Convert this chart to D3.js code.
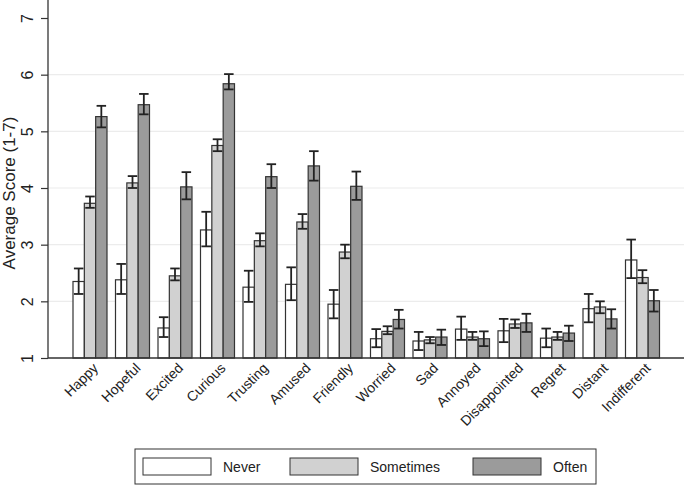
<!DOCTYPE html>
<html>
<head>
<meta charset="utf-8">
<script src="https://cdn.jsdelivr.net/npm/d3@7"></script>
<style>
  html, body { margin: 0; padding: 0; background: #fff; }
  svg { display: block; font-family: "Liberation Sans", Arial, sans-serif; }
</style>
</head>
<body>
<svg id="chart" width="685" height="485"></svg>
<script>
const categories = ["Happy","Hopeful","Excited","Curious","Trusting","Amused","Friendly","Worried","Sad","Annoyed","Disappointed","Regret","Distant","Indifferent"];
const seriesNames = ["Never","Sometimes","Often"];
const neverMean = [2.35, 2.38, 1.53, 3.26, 2.25, 2.30, 1.95, 1.34, 1.30, 1.51, 1.48, 1.35, 1.87, 2.73];
const neverLow  = [2.13, 2.13, 1.37, 2.97, 1.99, 2.02, 1.70, 1.19, 1.14, 1.32, 1.28, 1.19, 1.63, 2.41];
const neverHigh = [2.58, 2.66, 1.72, 3.58, 2.54, 2.60, 2.20, 1.51, 1.46, 1.73, 1.69, 1.52, 2.13, 3.09];
const someMean  = [3.73, 4.09, 2.45, 4.75, 3.07, 3.40, 2.87, 1.47, 1.32, 1.37, 1.60, 1.37, 1.90, 2.42];
const someLow   = [3.65, 4.00, 2.37, 4.65, 2.97, 3.28, 2.76, 1.42, 1.26, 1.32, 1.53, 1.32, 1.79, 2.32];
const someHigh  = [3.85, 4.21, 2.58, 4.86, 3.20, 3.54, 3.00, 1.56, 1.37, 1.46, 1.68, 1.46, 2.00, 2.55];
const oftenMean = [5.26, 5.47, 4.02, 5.84, 4.20, 4.39, 4.03, 1.68, 1.37, 1.34, 1.62, 1.44, 1.69, 2.01];
const oftenLow  = [5.07, 5.30, 3.80, 5.74, 4.00, 4.13, 3.79, 1.52, 1.23, 1.21, 1.46, 1.30, 1.52, 1.82];
const oftenHigh = [5.45, 5.66, 4.28, 6.01, 4.42, 4.65, 4.29, 1.85, 1.50, 1.47, 1.78, 1.57, 1.86, 2.20];
const yTicks = [1, 2, 3, 4, 5, 6, 7];
const gridValues = [2, 3, 4, 5, 6];
const yTitle = "Average Score (1-7)";
const seriesColors = ["#ffffff", "#d1d1d1", "#9b9b9b"];

const series = [
  {name: seriesNames[0], mean: neverMean, lo: neverLow, hi: neverHigh},
  {name: seriesNames[1], mean: someMean, lo: someLow, hi: someHigh},
  {name: seriesNames[2], mean: oftenMean, lo: oftenLow, hi: oftenHigh}
];
const rows = [];
categories.forEach((c, i) => series.forEach((s, j) => rows.push({cat: c, ser: s.name, j, v: s.mean[i], lo: s.lo[i], hi: s.hi[i]})));

const svg = d3.select("#chart");
const axisX = 48, axisRight = 684, baseY = 358;

const y = d3.scaleLinear().domain([1, 7]).range([baseY, 18]);
const x0 = d3.scaleBand().domain(categories).range([68.75, 663.75]).paddingInner(0.2).paddingOuter(0.1);
const x1 = d3.scaleBand().domain(seriesNames).range([0, x0.bandwidth()]);
const color = d3.scaleOrdinal().domain(seriesNames).range(seriesColors);

// gridlines
svg.append("g").selectAll("line").data(gridValues).join("line")
  .attr("x1", axisX).attr("x2", axisRight)
  .attr("y1", d => y(d)).attr("y2", d => y(d))
  .attr("stroke", "#ececec").attr("stroke-width", 1.2);

// bars
svg.append("g").selectAll("rect").data(rows).join("rect")
  .attr("x", d => x0(d.cat) + x1(d.ser))
  .attr("width", x1.bandwidth())
  .attr("y", d => y(d.v))
  .attr("height", d => y(1) - y(d.v))
  .attr("fill", d => color(d.ser))
  .attr("stroke", "#333").attr("stroke-width", 1.2);

// error bars
const eb = svg.append("g").attr("stroke", "#222").attr("stroke-width", 1.8).attr("fill", "none");
const cx = d => x0(d.cat) + x1(d.ser) + x1.bandwidth() / 2;
const cap = x1.bandwidth() * 0.42;
eb.selectAll("line.v").data(rows).join("line").attr("class", "v")
  .attr("x1", cx).attr("x2", cx).attr("y1", d => y(d.lo)).attr("y2", d => y(d.hi));
eb.selectAll("line.t").data(rows).join("line").attr("class", "t")
  .attr("x1", d => cx(d) - cap).attr("x2", d => cx(d) + cap).attr("y1", d => y(d.hi)).attr("y2", d => y(d.hi));
eb.selectAll("line.b").data(rows).join("line").attr("class", "b")
  .attr("x1", d => cx(d) - cap).attr("x2", d => cx(d) + cap).attr("y1", d => y(d.lo)).attr("y2", d => y(d.lo));

// y axis
const yAxis = svg.append("g").attr("transform", `translate(${axisX},0)`)
  .call(d3.axisLeft(y).tickValues(yTicks).tickSize(7).tickPadding(4).tickFormat(d3.format("d")));
yAxis.select(".domain").remove();
yAxis.append("line").attr("x1", 0).attr("x2", 0).attr("y1", 0).attr("y2", baseY).attr("stroke", "#333").attr("stroke-width", 1.3);
yAxis.selectAll(".tick line").attr("stroke", "#333").attr("stroke-width", 1.2);
yAxis.selectAll(".tick text")
  .attr("font-size", 16).attr("fill", "#222")
  .attr("transform", "rotate(-90)")
  .attr("x", 0).attr("y", -15)
  .attr("dy", "0").attr("text-anchor", "middle");

// x axis line
svg.append("line").attr("x1", axisX).attr("x2", axisRight).attr("y1", baseY).attr("y2", baseY)
  .attr("stroke", "#333").attr("stroke-width", 1.3);

// x labels
svg.append("g").selectAll("text").data(categories).join("text")
  .attr("transform", d => `translate(${x0(d) + x0.bandwidth() / 2 + 2},${baseY + 4}) rotate(-45)`)
  .attr("text-anchor", "end").attr("dy", "0.7em")
  .attr("font-size", 14).attr("fill", "#222")
  .text(d => d);

// y title
svg.append("text")
  .attr("transform", `translate(15,${(y(1) + 18) / 2 + 5}) rotate(-90)`)
  .attr("text-anchor", "middle")
  .attr("font-size", 17).attr("fill", "#222")
  .text(yTitle);

// legend
const lg = svg.append("g");
lg.append("rect").attr("x", 135).attr("y", 449).attr("width", 461).attr("height", 35)
  .attr("fill", "#fff").attr("stroke", "#333").attr("stroke-width", 1);
const legendX = [143, 290, 473];
const items = lg.selectAll("g.item").data(seriesNames).join("g").attr("class", "item")
  .attr("transform", (d, i) => `translate(${legendX[i]},458)`);
items.append("rect").attr("width", 68).attr("height", 17)
  .attr("fill", d => color(d)).attr("stroke", "#333").attr("stroke-width", 1);
items.append("text").attr("x", 80).attr("y", 13.5)
  .attr("font-size", 14).attr("fill", "#222").text(d => d);
</script>
</body>
</html>
